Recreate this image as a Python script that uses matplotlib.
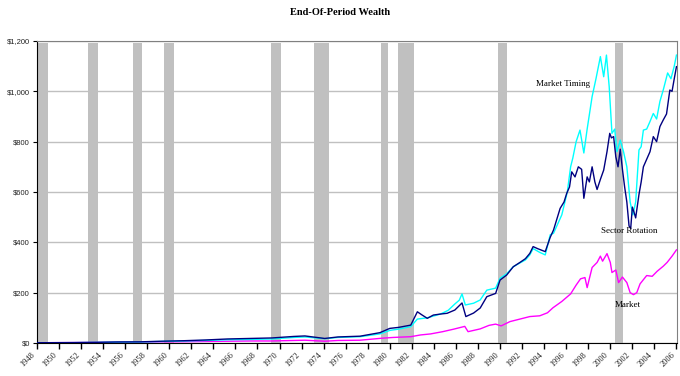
import numpy as np
import matplotlib
matplotlib.use("Agg")
import matplotlib.pyplot as plt

# recession bands (start, end) in decimal years
rec_start = [1948.83, 1953.37, 1957.45, 1960.21, 1969.89, 1973.78, 1979.91, 1981.46, 1990.50, 2001.16]
rec_end = [1949.70, 1954.27, 1958.21, 1961.12, 1970.87, 1975.23, 1980.55, 1982.94, 1991.29, 2001.89]

# Market (magenta)
mkt_x = [1948.7, 1950, 1952, 1954, 1956, 1958, 1960, 1962, 1964, 1966, 1968, 1970, 1972, 1973,
         1974.8, 1976, 1978, 1980, 1981, 1982.6, 1983.5, 1984.4, 1985.5, 1986.5, 1987.5, 1987.8,
         1988.9, 1989.7, 1990.3, 1990.8, 1991.6, 1992.5, 1993.4, 1994.3, 1995.0, 1995.5, 1996.3,
         1997.1, 1997.6, 1998.0, 1998.4, 1998.6, 1999.05, 1999.5, 1999.8, 2000.0, 2000.4, 2000.7,
         2000.85, 2001.2, 2001.45, 2001.8, 2002.2, 2002.5, 2002.8, 2003.1, 2003.4, 2004.0, 2004.5,
         2004.95, 2005.5, 2005.85, 2006.3, 2006.7]
mkt_y = [1.0, 1.3, 1.8, 2.2, 3.3, 3.5, 4.5, 5, 6, 7, 8, 8, 10, 11,
         7, 10, 11, 19, 22, 25, 32, 36, 45, 55, 66, 45,
         56, 70, 75, 68, 85, 95, 105, 108, 120, 140, 165,
         195, 230, 255, 260, 220, 300, 320, 345, 325, 355, 320,
         280, 290, 240, 262, 240, 200, 192, 200, 235, 268, 265,
         285, 305, 320, 345, 370]

# Sector Rotation (navy)
sec_x = [1948.7, 1952, 1954, 1956, 1958, 1960, 1962, 1964, 1966, 1968, 1970, 1972, 1973, 1974.8,
         1976, 1978, 1979.8, 1980.7, 1981.5, 1982.6, 1983.2, 1983.6, 1984.1, 1984.65, 1985.3,
         1985.9, 1986.6, 1987.25, 1987.6, 1988.3, 1988.9, 1989.5, 1990.3, 1990.7, 1991.3, 1991.9,
         1992.5, 1993.0, 1993.4, 1993.7, 1994.1, 1994.8, 1995.25, 1995.55, 1996.15, 1996.5,
         1996.75, 1997.0, 1997.2, 1997.5, 1997.8, 1998.1, 1998.3, 1998.6, 1998.8, 1999.05,
         1999.3, 1999.5, 1999.8, 2000.1, 2000.4, 2000.65, 2000.8, 2001.0, 2001.2, 2001.4,
         2001.6, 2001.8, 2002.0, 2002.2, 2002.4, 2002.55, 2002.7, 2002.85, 2003.0, 2003.3,
         2003.5, 2003.7, 2004.0, 2004.3, 2004.6, 2004.9, 2005.2, 2005.5, 2005.8, 2006.1,
         2006.3, 2006.5, 2006.7]
sec_y = [1.0, 1.5, 2.5, 4, 4.5, 7, 9, 12, 16, 18, 20, 26, 28, 18,
         24, 27, 41, 58, 62, 71, 124, 112, 98, 111, 115,
         118, 131, 159, 105, 119, 139, 184, 197, 250, 270, 303,
         320, 335, 356, 383, 375, 363, 420, 449, 535, 560,
         595, 620, 680, 660, 700, 690, 575, 660, 640, 700,
         640, 610, 650, 687, 760, 833, 815, 820, 740, 700,
         770, 690, 620, 560, 465, 455, 540, 520, 497, 590,
         640, 700, 730, 760, 820, 800, 860, 886, 910, 1005,
         1000, 1050, 1098]

# Market Timing (cyan)
tim_x = [1948.7, 1952, 1954, 1956, 1958, 1960, 1962, 1964, 1966, 1968, 1970, 1972, 1973, 1974.8,
         1976, 1978, 1979.8, 1980.7, 1981.5, 1982.6, 1983.2, 1984.1, 1985.3, 1986.0, 1986.6,
         1987.0, 1987.25, 1987.55, 1988.3, 1988.9, 1989.5, 1990.3, 1990.7, 1991.3, 1991.9,
         1992.5, 1993.0, 1993.4, 1993.7, 1994.3, 1994.8, 1995.25, 1995.55, 1996.3, 1996.8,
         1997.1, 1997.3, 1997.6, 1997.95, 1998.3, 1998.6, 1999.05, 1999.4, 1999.8, 2000.1,
         2000.35, 2000.6, 2000.85, 2001.1, 2001.3, 2001.6, 2001.9, 2002.2, 2002.5, 2002.75,
         2003.0, 2003.3, 2003.5, 2003.7, 2004.0, 2004.3, 2004.6, 2004.9, 2005.2, 2005.5,
         2005.9, 2006.2, 2006.5, 2006.7]
tim_y = [1.0, 1.4, 2.2, 3.5, 4, 6, 8, 10, 13, 14, 16, 22, 24, 17,
         22, 25, 36, 50, 55, 65, 95, 100, 115, 130, 155,
         170, 195, 151, 158, 171, 210, 218, 257, 275, 303,
         318, 330, 350, 375, 360, 350, 430, 436, 509, 600,
         700, 735, 800, 846, 755, 850, 979, 1050, 1138, 1058,
         1144, 1018, 833, 850, 760, 806, 760, 700, 560, 509,
         560, 767, 780, 846, 850, 880, 912, 890, 960, 1005,
         1073, 1050, 1100, 1144]

year_labels = [str(y) for y in range(1948, 2007, 2)]

fig = plt.figure(figsize=(6.8, 3.76), dpi=100)
ax = fig.add_axes([0.0544, 0.0878, 0.9412, 0.8032])

for s, e in zip(rec_start, rec_end):
    ax.axvspan(s, e, ymin=0, ymax=0.993, color="#c0c0c0", lw=0, zorder=1)

ax.plot(mkt_x, mkt_y, color="#ff00ff", lw=1, zorder=3)
ax.plot(tim_x, tim_y, color="#00ffff", lw=1, zorder=3)
ax.plot(sec_x, sec_y, color="#000080", lw=1, zorder=4)

ax.set_xlim(1948.7, 2006.75)
ax.set_ylim(0, 1200)
ax.set_yticks(range(0, 1201, 200))
ax.set_yticklabels(["$0", "$200", "$400", "$600", "$800", "$1,000", "$1,200"],
                   fontsize=5.5, family="Liberation Sans", color="#222222")
ax.set_xticks(np.arange(1948.7, 2006.8, 2)[:len(year_labels)])
ax.set_xticklabels(year_labels, rotation=45, ha="right", va="top",
                   fontsize=6, family="Liberation Serif", color="#222222")
ax.tick_params(axis="x", length=4, width=1, pad=2)
ax.tick_params(axis="y", length=3, width=0.8, pad=2)
ax.yaxis.grid(True, color="#c0c0c0", lw=1)
ax.set_axisbelow(True)

for side in ["top", "right"]:
    ax.spines[side].set_color("#808080")
ax.spines["left"].set_color("black")
ax.spines["bottom"].set_color("black")

ax.text(1996.44, 1029, "Market Timing", fontsize=6.5, family="Liberation Serif",
        ha="center", va="center", zorder=5)
ax.text(2002.43, 445, "Sector Rotation", fontsize=6.5, family="Liberation Serif",
        ha="center", va="center", zorder=5)
ax.text(2002.25, 151, "Market", fontsize=6.5, family="Liberation Serif",
        ha="center", va="center", zorder=5)

fig.text(0.5, 0.968, "End-Of-Period Wealth", fontsize=7.5, fontweight="bold",
         family="Liberation Serif", ha="center", va="center")

fig.savefig("out.png", dpi=100)
